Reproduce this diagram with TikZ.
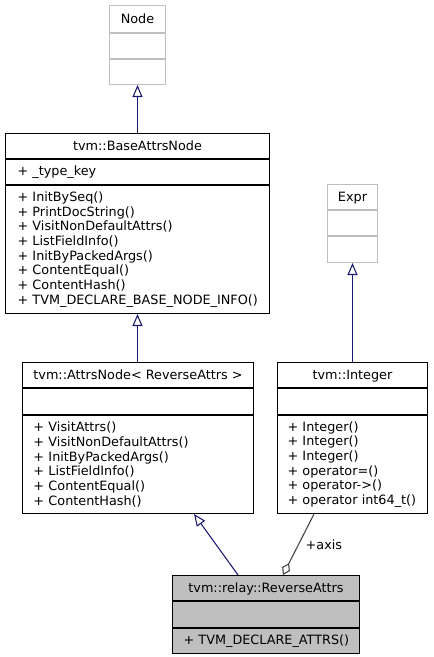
\documentclass[tikz,border=0pt]{standalone}
\usepackage{fontspec}
\setmainfont{DejaVu Sans}
\usetikzlibrary{arrows.meta, calc}
\hyphenpenalty=10000
\exhyphenpenalty=10000
\newcommand{\upx}{0.75pt}
\definecolor{edgeblue}{RGB}{25,25,112}
\definecolor{edgegray}{RGB}{64,64,64}
\definecolor{boxgray}{RGB}{191,191,191}
\tikzset{
  part/.style={draw=black, line width=0.75pt, anchor=north west, inner sep=0pt,
    font=\fontsize{9.6}{11}\selectfont},
  title/.style={part, text height=7pt, text depth=0pt},
  ext/.style={draw=boxgray},
  cur/.style={fill=boxgray},
  members/.style={part, align=left, inner xsep=6pt, text width=#1},
  inherit/.style={draw=edgeblue, line width=0.8pt, -{Triangle[open, length=9pt, width=7.5pt]}},
  member/.style={draw=edgegray, line width=0.8pt, -{Diamond[open, length=10pt, width=6.5pt]}}}

\begin{document}
\begin{tikzpicture}[x=\upx, y=-\upx]
	\useasboundingbox (0,0) rectangle (433,657);
	% Node
	\node[title, ext, minimum width=42pt, minimum height=20.25pt] (node) at (109,5) {Node};
	\node[part, ext, minimum width=42pt, minimum height=18.75pt] (node-a) at (node.south west) {};
	\node[part, ext, minimum width=42pt, minimum height=18.75pt] (node-m) at (node-a.south west) {};
	% tvm::BaseAttrsNode
	\node[title, minimum width=198pt, minimum height=18.75pt] (base) at (5,133) {tvm::BaseAttrsNode};
	\node[members=180pt, minimum width=198pt, minimum height=18.75pt] (base-a) at (base.south west) {+~\_type\_key};
	\node[members=180pt, minimum width=198pt, minimum height=96pt] (base-m) at (base-a.south west) {+~InitBySeq()\\+~PrintDocString()\\+~VisitNonDefaultAttrs()\\+~ListFieldInfo()\\+~InitByPackedArgs()\\+~ContentEqual()\\+~ContentHash()\\+~TVM\_DECLARE\_BASE\_NODE\_INFO()};
	% Expr
	\node[title, ext, minimum width=37.5pt, minimum height=18.75pt] (expr) at (327,184) {Expr};
	\node[part, ext, minimum width=37.5pt, minimum height=18.75pt] (expr-a) at (expr.south west) {};
	\node[part, ext, minimum width=37.5pt, minimum height=19.5pt] (expr-m) at (expr-a.south west) {};
	% tvm::AttrsNode
	\node[title, minimum width=173.25pt, minimum height=18.75pt] (attrs) at (22,362) {tvm::AttrsNode< ReverseAttrs >};
	\node[part, minimum width=173.25pt, minimum height=19.5pt] (attrs-a) at (attrs.south west) {};
	\node[members=156.75pt, minimum width=173.25pt, minimum height=73.5pt] (attrs-m) at (attrs-a.south west) {+~VisitAttrs()\\+~VisitNonDefaultAttrs()\\+~InitByPackedArgs()\\+~ListFieldInfo()\\+~ContentEqual()\\+~ContentHash()};
	% tvm::Integer
	\node[title, minimum width=112.5pt, minimum height=18.75pt] (integer) at (277,362) {tvm::Integer};
	\node[part, minimum width=112.5pt, minimum height=19.5pt] (integer-a) at (integer.south west) {};
	\node[members=97.5pt, minimum width=112.5pt, minimum height=73.5pt] (integer-m) at (integer-a.south west) {+~Integer()\\+~Integer()\\+~Integer()\\+~operator=()\\+~operator->()\\+~operator~int64\_t()};
	% tvm::relay::ReverseAttrs
	\node[title, cur, minimum width=140.25pt, minimum height=18.75pt] (rev) at (172,575) {tvm::relay::ReverseAttrs};
	\node[part, cur, minimum width=140.25pt, minimum height=19.5pt] (rev-a) at (rev.south west) {};
	\node[members=123.75pt, cur, minimum width=140.25pt, minimum height=18.75pt] (rev-m) at (rev-a.south west) {+~TVM\_DECLARE\_ATTRS()};
	% edges
	\draw[inherit] (base.north) -- (base.north |- node-m.south);
	\draw[inherit] (integer.north) -- (integer.north |- expr-m.south);
	\draw[inherit] (base-m.south |- attrs.north) -- (base-m.south);
	\draw[inherit] ([xshift=49.5pt]rev.north west) -- ([xshift=129pt]attrs-m.south west);
	\draw[member] ([xshift=27.75pt]integer-m.south west) -- node[pos=0.5, anchor=west, inner sep=5pt, font=\fontsize{9.6}{11}\selectfont] (axis) {+axis} ([xshift=83.25pt]rev.north west);
\end{tikzpicture}
\end{document}
